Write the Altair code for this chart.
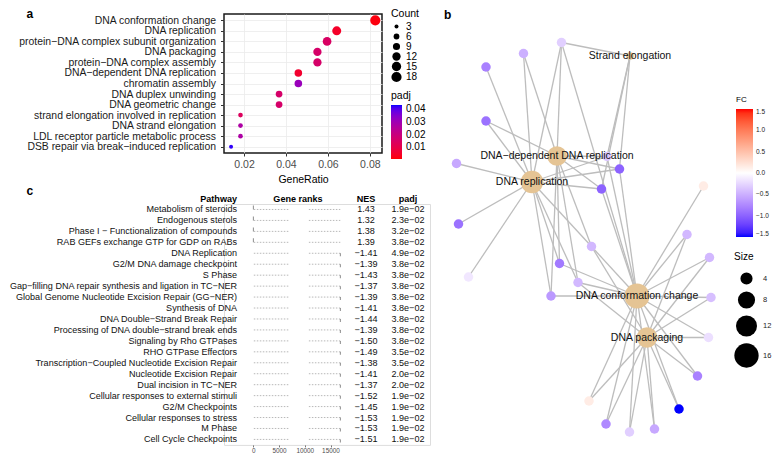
import altair as alt
import pandas as pd

FONT = "Liberation Sans"

# ---------------- panel a : GO dot plot ----------------
go_terms = [
    "DNA conformation change",
    "DNA replication",
    "protein−DNA complex subunit organization",
    "DNA packaging",
    "protein−DNA complex assembly",
    "DNA−dependent DNA replication",
    "chromatin assembly",
    "DNA duplex unwinding",
    "DNA geometric change",
    "strand elongation involved in replication",
    "DNA strand elongation",
    "LDL receptor particle metabolic process",
    "DSB repair via break−induced replication",
]
gene_ratio = [0.0826, 0.0642, 0.0596, 0.0550, 0.0550, 0.0459, 0.0459,
              0.0367, 0.0367, 0.0183, 0.0183, 0.0183, 0.0138]
go_count = [18, 14, 13, 12, 12, 10, 10, 8, 8, 4, 4, 4, 3]
go_padj = [0.002, 0.005, 0.015, 0.016, 0.016, 0.006, 0.031,
           0.016, 0.016, 0.014, 0.027, 0.027, 0.042]
count_legend_values = [3, 6, 9, 12, 15, 18]
padj_legend_values = [0.01, 0.02, 0.03, 0.04]
ratio_ticks = [0.02, 0.04, 0.06, 0.08]

# ---------------- panel b : gene-concept network ----------------
cat_names = ["Strand elongation", "DNA−dependent DNA replication", "DNA replication",
             "DNA conformation change", "DNA packaging"]
cat_x = [630, 557, 532, 637, 647]
cat_y = [56, 156, 182, 296, 337.5]
cat_size = [1.6, 10.5, 13.5, 17.0, 11.5]

gene_ids = ["g1", "g2", "g3", "g4", "g5", "g6", "g7", "g8", "g9", "g10", "g12", "g13", "g14",
            "g15", "g16", "g17", "g18", "g19", "g20", "g21", "g22", "g23", "g24", "g25", "g26"]
gene_x = [561.5, 523.5, 486, 486, 456.5, 607, 619.5, 601.5, 703.5, 458.5, 468.5, 591.5, 559.5,
          578, 551, 687, 709.5, 711, 708.5, 697.5, 679, 589, 606, 629.5, 654.5]
gene_y = [42.5, 53.5, 67, 121, 163.5, 156.5, 169, 189, 186, 224, 277, 246.5, 263.5,
          282.5, 296, 234.5, 257.5, 297.5, 337.5, 376, 409, 401, 424, 432, 429]
gene_fc = [-0.3, -0.5, -0.8, -0.9, -0.55, -0.35, -1.0, -1.0, 0.15, -0.9, -0.15, -0.45, -0.85,
           -0.45, -0.65, -0.45, -0.45, -0.4, -0.2, -0.8, -1.5, 0.15, -0.75, -0.3, -0.55]

cat_members = [
    ["g1", "g6", "g7", "g8"],
    ["g1", "g2", "g4", "g6", "g7", "g8", "g13", "g14", "g15", "g16"],
    ["g1", "g2", "g3", "g4", "g5", "g6", "g7", "g8", "g10", "g12", "g13", "g14", "g15", "g16"],
    ["g1", "g6", "g7", "g8", "g9", "g13", "g14", "g15", "g16", "g17", "g18", "g19", "g20", "g21",
     "g22", "g23", "g24", "g25", "g26"],
    ["g13", "g15", "g17", "g18", "g19", "g20", "g21", "g22", "g23", "g24", "g25", "g26"],
]
fc_legend_values = [-1.5, -1.0, -0.5, 0.0, 0.5, 1.0, 1.5]
size_legend_values = [4, 8, 12, 16]

# ---------------- panel c : GSEA table ----------------
pathways = [
    "Metabolism of steroids",
    "Endogenous sterols",
    "Phase I − Functionalization of compounds",
    "RAB GEFs exchange GTP for GDP on RABs",
    "DNA Replication",
    "G2/M DNA damage checkpoint",
    "S Phase",
    "Gap−filling DNA repair synthesis and ligation in TC−NER",
    "Global Genome Nucleotide Excision Repair (GG−NER)",
    "Synthesis of DNA",
    "DNA Double−Strand Break Repair",
    "Processing of DNA double−strand break ends",
    "Signaling by Rho GTPases",
    "RHO GTPase Effectors",
    "Transcription−Coupled Nucleotide Excision Repair",
    "Nucleotide Excision Repair",
    "Dual incision in TC−NER",
    "Cellular responses to external stimuli",
    "G2/M Checkpoints",
    "Cellular responses to stress",
    "M Phase",
    "Cell Cycle Checkpoints",
]
nes = [1.43, 1.32, 1.38, 1.39, -1.41, -1.39, -1.43, -1.37, -1.39, -1.41, -1.44,
       -1.39, -1.50, -1.49, -1.38, -1.41, -1.37, -1.52, -1.45, -1.53, -1.53, -1.51]
padj_c = [0.019, 0.023, 0.032, 0.038, 0.049, 0.038, 0.038, 0.038, 0.038, 0.038, 0.038,
          0.038, 0.038, 0.035, 0.035, 0.020, 0.020, 0.019, 0.019, 0.019, 0.019, 0.019]
rank_seg_start = [100, 10800]
rank_seg_end = [6900, 16900]
rank_max = 16900
rank_ticks = [0, 5000, 10000, 15000]

# ======================================================
# panel a
A_H = 139
df_a = pd.DataFrame({"Description": go_terms, "GeneRatio": gene_ratio,
                     "Count": go_count, "padj": go_padj})

a_points = alt.Chart(df_a).mark_circle(opacity=1).encode(
    x=alt.X("GeneRatio:Q",
            scale=alt.Scale(domain=[0.01043, 0.0858], nice=False, zero=False),
            axis=alt.Axis(values=ratio_ticks, format=".2f", title="GeneRatio", grid=True,
                          gridColor="#EBEBEB", gridWidth=0.8, domain=False, tickColor="#333333",
                          tickSize=3, labelFontSize=10.5, labelColor="#4D4D4D", labelPadding=3.5,
                          labelFont=FONT, titleFont=FONT, titleFontSize=10.5,
                          titleFontWeight="normal", titleColor="#000000", titlePadding=4)),
    y=alt.Y("Description:N", sort=go_terms,
            scale=alt.Scale(type="point", padding=0.6),
            axis=alt.Axis(title=None, grid=True, gridColor="#EBEBEB", gridWidth=0.8, domain=False,
                          tickColor="#333333", tickSize=3.5, labelPadding=5, labelFontSize=10.4,
                          labelColor="#1A1A1A", labelFont=FONT, labelLimit=400)),
    size=alt.Size("Count:Q", scale=alt.Scale(domain=[3, 18], range=[16, 104], zero=False),
                  legend=alt.Legend(orient="none", legendX=167, legendY=-5, values=count_legend_values,
                                    title="Count", titleFont=FONT, titleFontSize=10.5,
                                    titleFontWeight="normal", titleColor="#000000", titlePadding=2,
                                    labelFont=FONT, labelFontSize=10, labelColor="#000000",
                                    labelOffset=4, symbolFillColor="#000000", symbolStrokeWidth=0,
                                    symbolType="circle", rowPadding=0, padding=0)),
    color=alt.Color("padj:Q",
                    scale=alt.Scale(domain=[0.001, 0.043], range=["#FF0000", "#0000FF"],
                                    interpolate="lab", nice=False, zero=False),
                    legend=alt.Legend(orient="none", legendX=167, legendY=77, values=padj_legend_values,
                                      format=".2f", title="padj", titleFont=FONT, titleFontSize=10.5,
                                      titleFontWeight="normal", titleColor="#000000", titlePadding=3.5,
                                      labelFont=FONT, labelFontSize=10, labelColor="#000000",
                                      labelOffset=4, gradientLength=54, gradientThickness=11,
                                      gradientStrokeWidth=0, direction="vertical", padding=0,
                                      labelOverlap=False)),
)


def letter(t, xpos, ypos):
    return alt.Chart(pd.DataFrame({"t": [t]})).mark_text(
        align="left", baseline="alphabetic", fontSize=12, fontWeight="bold", font=FONT,
        color="#000000").encode(text="t:N", x=alt.value(xpos), y=alt.value(ypos))


chart_a = alt.layer(a_points, letter("a", -197.5, 3.5)).properties(
    width=158, height=A_H, view=alt.ViewBackground(stroke="#1A1A1A", strokeWidth=1.5))

# ======================================================
# panel c (table)
C_TOP = 204.0   # page y of table plot origin
C_LEFT = 224.0  # page x of table plot origin
ROW_STEP = 10.95

df_c = pd.DataFrame({"Pathway": pathways, "NES": nes, "padj": padj_c})
df_c["NES_label"] = [f"{v:.2f}".replace("-", "−") for v in nes]
df_c["padj_label"] = [f"{v:.1e}".replace("-", "−") for v in padj_c]

seg_rows = []
for p in pathways:
    for s, e in zip(rank_seg_start, rank_seg_end):
        seg_rows.append({"Pathway": p, "start": s, "end": e})
df_seg = pd.DataFrame(seg_rows)
df_tick = pd.DataFrame({"Pathway": pathways,
                        "rank": [0 if v > 0 else rank_max for v in nes],
                        "sign": ["pos" if v > 0 else "neg" for v in nes]})

Yc = alt.Y("Pathway:N", sort=pathways, scale=alt.Scale(type="point", padding=0.5), axis=None)
rank_scale = alt.Scale(domain=[0, 17000], range=[29.3, 116.8], nice=False, zero=False)

c_seg = alt.Chart(df_seg).mark_rule(color="#9A9A9A", strokeWidth=0.7, strokeDash=[1.5, 1.5]).encode(
    x=alt.X("start:Q", scale=rank_scale,
            axis=alt.Axis(values=rank_ticks, format="d", title=None, grid=False, domain=False,
                          tickSize=2, tickColor="#777777", labelFontSize=6.4, labelColor="#4D4D4D",
                          labelPadding=0.5, labelFont=FONT, labelFlush=False)),
    x2="end:Q", y=Yc)
c_tick_pos = alt.Chart(df_tick).transform_filter(alt.datum.sign == "pos").mark_tick(
    color="#333333", thickness=0.8, size=4, yOffset=-2).encode(
    x=alt.X("rank:Q", scale=rank_scale), y=Yc)
c_tick_neg = alt.Chart(df_tick).transform_filter(alt.datum.sign == "neg").mark_tick(
    color="#333333", thickness=0.8, size=3, yOffset=1.5).encode(
    x=alt.X("rank:Q", scale=rank_scale), y=Yc)

c_path = alt.Chart(df_c).mark_text(align="right", baseline="middle", fontSize=9.05, font=FONT,
                                   color="#111111").encode(x=alt.value(13), y=Yc, text="Pathway:N")
c_nes = alt.Chart(df_c).mark_text(align="center", baseline="middle", fontSize=9.05, font=FONT,
                                  color="#111111").encode(x=alt.value(142), y=Yc, text="NES_label:N")
c_padj = alt.Chart(df_c).mark_text(align="center", baseline="middle", fontSize=9.05, font=FONT,
                                   color="#111111").encode(x=alt.value(184), y=Yc, text="padj_label:N")


def header(txt, xpos, align):
    return alt.Chart(pd.DataFrame({"h": [txt]})).mark_text(
        align=align, baseline="middle", fontSize=9.05, fontWeight="bold", font=FONT, color="#000000"
    ).encode(text="h:N", x=alt.value(xpos), y=alt.value(-5.5))


table_c = alt.layer(c_seg, c_tick_pos, c_tick_neg, c_path, c_nes, c_padj,
                    header("Pathway", 13, "right"), header("Gene ranks", 74, "center"),
                    header("NES", 142, "center"), header("padj", 184, "center"),
                    letter("c", -197.5, -9))

# ======================================================
# panel b (network) drawn in the same layer group as the table, with its own scales
gpos = {g: (x, y) for g, x, y in zip(gene_ids, gene_x, gene_y)}
edge_rows = []
for cname, cx, cy, members in zip(cat_names, cat_x, cat_y, cat_members):
    for g in members:
        edge_rows.append({"cat": cname, "gene": g, "x1": cx, "y1": cy,
                          "x2": gpos[g][0], "y2": gpos[g][1]})
df_edges = pd.DataFrame(edge_rows)
df_genes = pd.DataFrame({"gene": gene_ids, "x": gene_x, "y": gene_y, "FC": gene_fc})
df_cats = pd.DataFrame({"name": cat_names, "x": cat_x, "y": cat_y, "size": cat_size,
                        "kind": ["category"] * len(cat_names)})

bx = alt.Scale(domain=[440, 722], range=[440 - C_LEFT, 722 - C_LEFT], nice=False, zero=False)
by = alt.Scale(domain=[14, 454], range=[14 - C_TOP, 454 - C_TOP], nice=False, zero=False)

b_edges = alt.Chart(df_edges).mark_rule(color="#BDBDBD", strokeWidth=1.3).encode(
    x=alt.X("x1:Q", scale=bx, axis=None), y=alt.Y("y1:Q", scale=by, axis=None),
    x2="x2:Q", y2="y2:Q")
b_genes = alt.Chart(df_genes).mark_circle(size=90, opacity=1).encode(
    x=alt.X("x:Q", scale=bx, axis=None), y=alt.Y("y:Q", scale=by, axis=None),
    color=alt.Color("FC:Q",
                    scale=alt.Scale(domain=[-1.5, 0, 1.5], range=["#0000FF", "#FFFFFF", "#FF0000"],
                                    interpolate="lab", nice=False, zero=False),
                    legend=alt.Legend(orient="none", legendX=736 - C_LEFT, legendY=96 - C_TOP,
                                      values=fc_legend_values,
                                      format=".1f", title="FC", titleFont=FONT, titleFontSize=8,
                                      titleFontWeight="normal", titleColor="#000000", titlePadding=5,
                                      labelFont=FONT, labelFontSize=6.5, labelColor="#222222",
                                      labelOffset=3, gradientLength=128, gradientThickness=17,
                                      gradientStrokeWidth=0, direction="vertical", padding=0,
                                      labelOverlap=False)))
b_cats = alt.Chart(df_cats).mark_circle(opacity=1).encode(
    x=alt.X("x:Q", scale=bx, axis=None), y=alt.Y("y:Q", scale=by, axis=None),
    fill=alt.Fill("kind:N", scale=alt.Scale(range=["#E5C494"]), legend=None),
    size=alt.Size("size:Q", scale=alt.Scale(domain=[0, 16], range=[0, 590], zero=True),
                  legend=alt.Legend(orient="none", legendX=734 - C_LEFT, legendY=252 - C_TOP,
                                    values=size_legend_values,
                                    title="Size", titleFont=FONT, titleFontSize=10,
                                    titleFontWeight="normal", titleColor="#000000", titlePadding=10,
                                    labelFont=FONT, labelFontSize=7.5, labelColor="#222222",
                                    labelOffset=4, symbolFillColor="#000000", symbolStrokeWidth=0,
                                    symbolType="circle", rowPadding=6, padding=0)))
b_labels = alt.Chart(df_cats).mark_text(fontSize=10.5, font=FONT, color="#111111",
                                        baseline="middle", align="center").encode(
    x=alt.X("x:Q", scale=bx, axis=None), y=alt.Y("y:Q", scale=by, axis=None), text="name:N")

network_b = alt.layer(b_edges, b_genes, b_cats, b_labels,
                      letter("b", 444 - C_LEFT, 18.5 - C_TOP))

chart_cb = alt.layer(table_c, network_b).resolve_scale(
    x="independent", y="independent").properties(width=206, height=ROW_STEP * len(pathways))

# ======================================================
chart = alt.vconcat(chart_a, chart_cb, spacing=C_TOP - 14 - A_H, bounds="flush").resolve_scale(
    color="independent", size="independent"
).properties(
    autosize=alt.AutoSizeParams(type="none"),
    padding={"left": 216, "top": 6, "right": 549, "bottom": 440},
).configure_view(strokeWidth=0).configure(font=FONT)

chart.save("out.html", embed_options={"renderer": "svg", "actions": False})
